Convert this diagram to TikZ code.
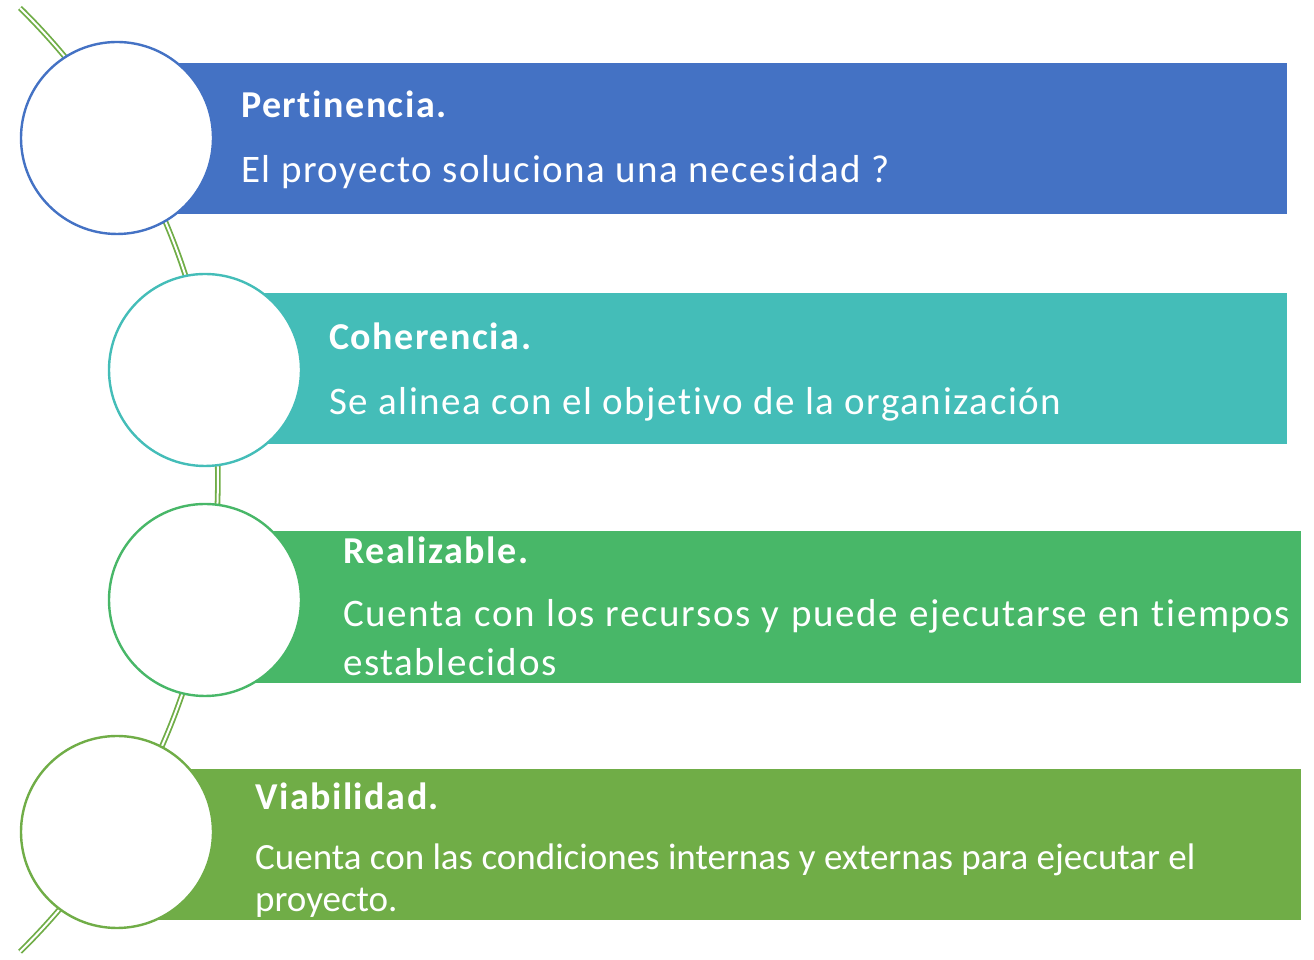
\documentclass[tikz,border=0pt]{standalone}
\usepackage{fontspec}
\setmainfont{Carlito}[Ligatures=NoCommon]
\newfontfamily\widefont{Carlito}[LetterSpace=4,Ligatures=NoCommon]
\usepackage{tikz}
\usetikzlibrary{calc}
\definecolor{perblue}{HTML}{4472C4}
\definecolor{cohteal}{HTML}{44BDB8}
\definecolor{realgreen}{HTML}{48B768}
\definecolor{viagreen}{HTML}{70AD47}
\hyphenpenalty=10000
\exhyphenpenalty=10000

\begin{document}
\begin{tikzpicture}[x=1pt,y=1pt,
  ring/.style={circle,draw=#1,line width=2.4pt,fill=white,minimum size=192pt,inner sep=0pt},
  head/.style={anchor=base west,text=white,font=\widefont\fontsize{38}{46}\selectfont\bfseries,inner sep=0pt},
  body/.style={anchor=base west,text=white,font=\widefont\fontsize{39}{49}\selectfont,inner sep=0pt},
  chain/.style={draw=viagreen,double=white,double distance=2pt,line width=1.8pt}]
\useasboundingbox (0,0) rectangle (1314,960);
\coordinate (arctop) at (20,952);
\draw[chain] (arctop) arc[start angle=45.5,end angle=-45.5,radius=661.6];
\fill[perblue] (117,746) rectangle (1287,897);
\fill[cohteal] (205,516) rectangle (1287,667);
\fill[realgreen] (205,277) rectangle (1301,429);
\fill[viagreen] (117,40) rectangle (1301,191);
\node[ring=perblue] (c1) at (117,822) {};
\node[ring=cohteal] (c2) at (205,590) {};
\node[ring=realgreen] (c3) at (205,360) {};
\node[ring=viagreen] (c4) at (117,128) {};
\node[head] (t1) at (241,842) {Pertinencia.};
\node[body] (d1) at (241,777) {El proyecto soluciona una necesidad ?};
\node[head] (t2) at (329,610) {Coherencia.};
\node[body] (d2) at (329,545) {Se alinea con el objetivo de la organización};
\node[head] (t3) at (343,396) {Realizable.};
\node[body,text width=947pt,align=justify] (d3) at (343,333)
  {Cuenta con los recursos y puede ejecutarse en tiempos establecidos};
\node[head] (t4) at (255,150) {Viabilidad.};
\node[body,font=\rmfamily\fontsize{37}{42}\selectfont,text width=1040pt,align=flush left] (d4) at (255,90)
  {Cuenta con las condiciones internas y externas para ejecutar el proyecto.};
\end{tikzpicture}
\end{document}
